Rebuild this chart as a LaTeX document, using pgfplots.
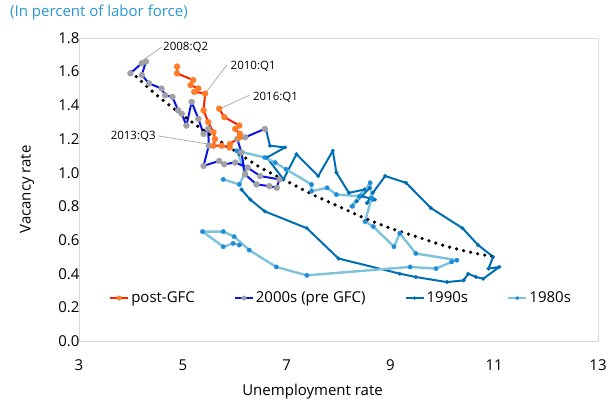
\documentclass[border=0pt]{standalone}
\usepackage{pgfplots}
\pgfplotsset{compat=1.18}
\usepackage{fontspec}
\setmainfont{Open Sans}
\usetikzlibrary{calc}
\definecolor{gfcline}{RGB}{255,30,0}
\definecolor{gfcmark}{RGB}{255,125,40}
\definecolor{zline}{RGB}{10,20,230}
\definecolor{zmark}{RGB}{160,160,165}
\definecolor{nline}{RGB}{0,110,180}
\definecolor{eline}{RGB}{125,195,220}
\definecolor{emark}{RGB}{30,140,220}
\definecolor{framegray}{RGB}{217,217,217}
\definecolor{titleblue}{RGB}{40,150,210}
\definecolor{leader}{RGB}{166,166,166}
\begin{document}
\begin{tikzpicture}
\begin{axis}[name=ax, at={(0,0)}, anchor=south west,
  width=519pt, height=303pt, scale only axis,
  xmin=3, xmax=13, ymin=0, ymax=1.8,
  xtick={3,5,7,9,11,13},
  ytick={0,0.2,0.4,0.6,0.8,1.0,1.2,1.4,1.6,1.8},
  axis line style={draw=framegray, line width=0.8pt},
  tick style={draw=none},
  /pgf/number format/assume math mode=true,
  ticklabel style={font=\fontsize{15}{18}\selectfont},
  yticklabel style={xshift=4pt, /pgf/number format/fixed, /pgf/number format/fixed zerofill, /pgf/number format/precision=1},
  xticklabel style={yshift=-15pt},
  xlabel={Unemployment rate}, ylabel={Vacancy rate},
  label style={font=\fontsize{15}{18}\selectfont},
  xlabel style={at={(axis description cs:0.45,0)}, anchor=north, yshift=-40pt},
  ylabel style={at={(axis description cs:-0.1,0.5)}, anchor=center},
  clip=false,
  legend columns=4,
  legend style={draw=none, fill=none, at={(axis cs:3.56,0.255)}, anchor=west,
    font=\fontsize{15}{18}\selectfont, inner sep=1pt,
    /tikz/every even column/.append style={column sep=37pt}},
  legend image code/.code={\draw[mark repeat=2,mark phase=2,#1] plot coordinates {(0pt,0pt) (9pt,0pt) (18pt,0pt)};},
]
% 1990s
\addplot[forget plot, color=nline, line width=2pt, line join=round, mark=*, mark size=1.9pt, mark options={solid, line width=0.3pt, fill=nline, draw=nline}] coordinates {
(6.13,0.90)(6.30,0.84)(6.58,0.77)(7.39,0.67)(8.00,0.49)(9.18,0.40)(9.49,0.38)(10.09,0.35)(10.41,0.36)(10.50,0.40)(10.65,0.38)(10.79,0.37)(11.10,0.44)(10.89,0.43)(10.98,0.50)(10.69,0.57)(10.39,0.67)(9.78,0.79)(9.30,0.94)(8.90,0.98)(8.66,0.88)(8.55,0.82)(8.70,0.84)(8.45,0.86)(8.60,0.91)(8.35,0.83)(8.25,0.80)(8.50,0.90)(8.20,0.88)(7.96,1.00)(7.89,1.13)(7.61,0.98)(7.19,1.11)(6.94,0.96)(6.62,1.09)(6.97,1.15)(6.68,1.16)(6.60,1.26)};
% 1980s
\addplot[forget plot, color=eline, line width=2.4pt, line join=round, mark=*, mark size=2.2pt, mark options={solid, line width=0.3pt, fill=emark, draw=emark}] coordinates {
(6.09,0.57)(5.97,0.58)(5.78,0.56)(5.38,0.65)(5.78,0.65)(5.99,0.62)(6.28,0.54)(6.80,0.44)(7.39,0.39)(9.38,0.44)(9.88,0.43)(10.18,0.47)(10.28,0.48)(9.49,0.52)(9.18,0.64)(9.07,0.56)(8.67,0.68)(8.51,0.71)(8.64,0.85)(8.61,0.94)(8.27,0.80)(8.40,0.86)(7.96,0.87)(7.78,0.91)(7.48,0.89)(7.48,0.93)(6.99,1.02)(6.78,1.06)(6.58,1.09)(6.04,1.13)(6.20,1.00)(6.09,0.93)(5.78,0.96)};
% 2000s
\addplot[forget plot, color=zline, line width=2pt, line join=round, mark=*, mark size=3pt, mark options={solid, line width=0.3pt, fill=zmark, draw=zmark}] coordinates {
(6.58,1.26)(6.20,1.21)(6.05,1.20)(6.13,1.12)(6.20,0.99)(6.42,0.93)(6.67,0.92)(6.81,0.91)(6.86,0.96)(6.49,0.98)(6.25,1.03)(6.01,1.06)(5.80,1.05)(5.70,1.07)(5.40,1.04)(5.50,1.16)(5.49,1.26)(5.40,1.23)(5.30,1.32)(5.17,1.42)(5.07,1.28)(4.98,1.35)(4.91,1.37)(4.80,1.45)(4.66,1.46)(4.59,1.50)(4.35,1.53)(4.21,1.58)(4.29,1.66)(4.21,1.65)(3.99,1.59)};
% post-GFC
\addplot[forget plot, color=gfcline, line width=2pt, line join=round, mark=*, mark size=3pt, mark options={solid, line width=0.3pt, fill=gfcmark, draw=gfcmark}] coordinates {
(4.89,1.63)(4.89,1.59)(5.20,1.55)(5.15,1.52)(5.30,1.50)(5.22,1.48)(5.43,1.47)(5.40,1.37)(5.49,1.30)(5.59,1.24)(5.62,1.20)(5.59,1.16)(5.75,1.16)(5.90,1.15)(5.91,1.17)(6.09,1.21)(6.10,1.23)(6.01,1.26)(6.09,1.28)(5.80,1.33)(5.70,1.38)};
% trend
\addplot[forget plot, black, line width=3.6pt, line cap=round, dash pattern=on 0pt off 7.2pt, smooth] coordinates {
(4.0,1.60)(4.5,1.46)(5.0,1.34)(5.5,1.23)(6.0,1.13)(6.5,1.03)(7.0,0.95)(7.5,0.87)(8.0,0.80)(8.5,0.73)(9.0,0.67)(9.5,0.62)(10.0,0.57)(10.5,0.53)(11.0,0.50)};
% annotations
\draw[leader, line width=0.7pt] (axis cs:4.59,1.745) -- (axis cs:4.24,1.67);
\node[anchor=west, font=\fontsize{11.5}{13}\selectfont, inner sep=1pt] at (axis cs:4.60,1.745) {2008:Q2};
\draw[leader, line width=0.7pt] (axis cs:5.85,1.64) -- (axis cs:5.43,1.47);
\node[anchor=west, font=\fontsize{11.5}{13}\selectfont, inner sep=1pt] at (axis cs:5.90,1.63) {2010:Q1};
\draw[leader, line width=0.7pt] (axis cs:6.28,1.46) -- (axis cs:5.72,1.38);
\node[anchor=west, font=\fontsize{11.5}{13}\selectfont, inner sep=1pt] at (axis cs:6.33,1.45) {2016:Q1};
\draw[leader, line width=0.7pt] (axis cs:4.53,1.218) -- (axis cs:5.59,1.165);
\node[anchor=east, font=\fontsize{11.5}{13}\selectfont, inner sep=1pt] at (axis cs:4.50,1.215) {2013:Q3};
% legend
\addlegendimage{color=gfcline, line width=2pt, mark=*, mark size=2.3pt, mark options={solid, line width=0.3pt, fill=gfcmark, draw=gfcmark}}
\addlegendentry{post-GFC}
\addlegendimage{color=zline, line width=2pt, mark=*, mark size=2.3pt, mark options={solid, line width=0.3pt, fill=zmark, draw=zmark}}
\addlegendentry{2000s (pre GFC)}
\addlegendimage{color=nline, line width=2pt, mark=*, mark size=1.6pt, mark options={solid, line width=0.3pt, fill=nline, draw=nline}}
\addlegendentry{1990s}
\addlegendimage{color=eline, line width=2.4pt, mark=*, mark size=1.8pt, mark options={solid, line width=0.3pt, fill=emark, draw=emark}}
\addlegendentry{1980s}
\end{axis}
\node[anchor=west, text=titleblue, font=\fontsize{15}{18}\selectfont, inner sep=0pt] at ($(ax.north west)+(-69pt,25pt)$) {(In percent of labor force)};
\pgfresetboundingbox
\useasboundingbox ($(ax.south west)+(-79pt,-61pt)$) rectangle ($(ax.north east)+(18pt,38pt)$);
\end{tikzpicture}
\end{document}
